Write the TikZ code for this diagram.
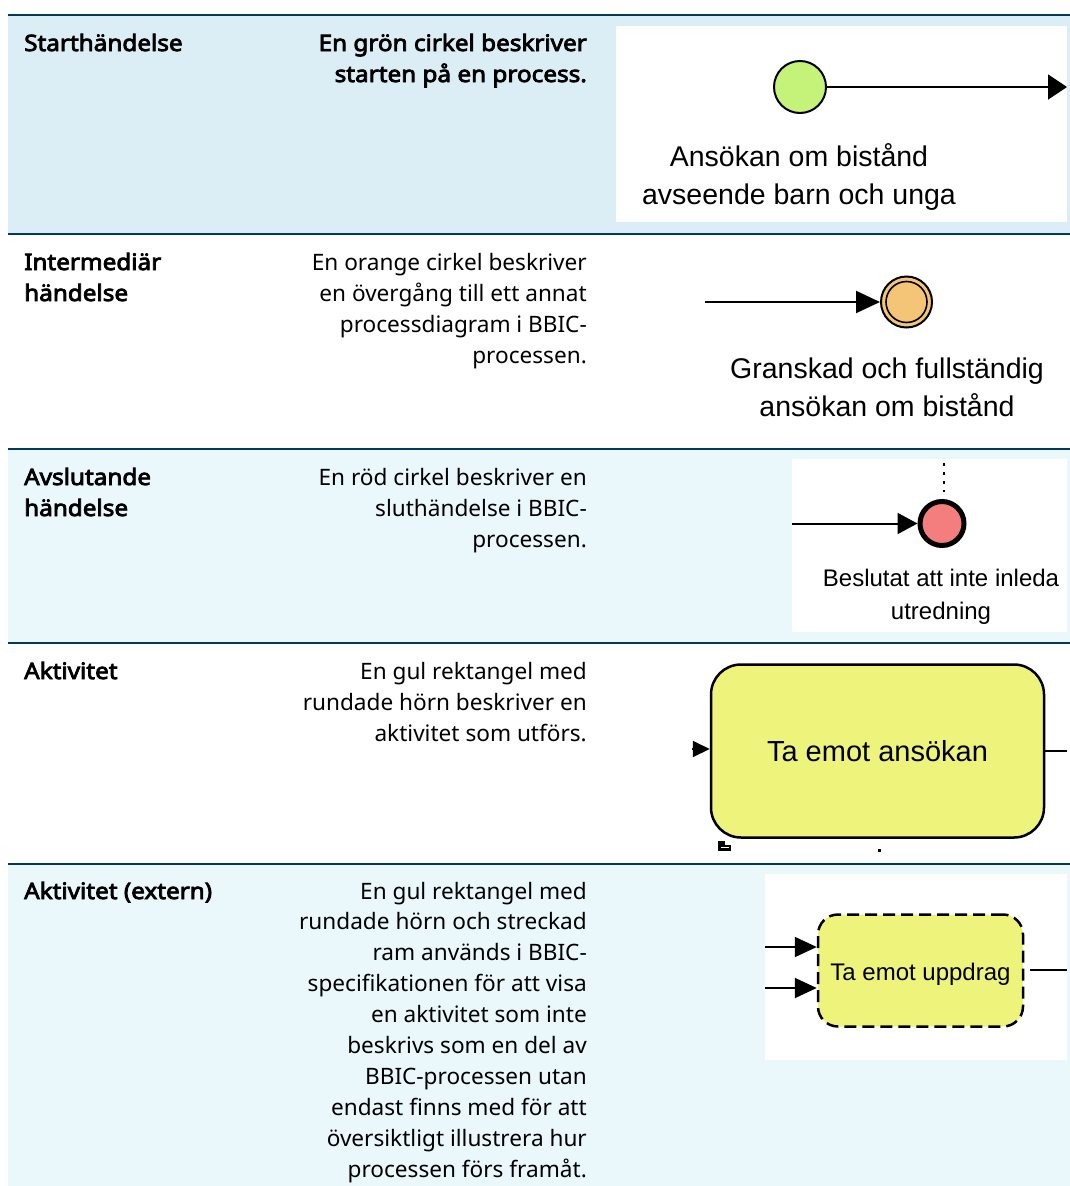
\documentclass[tikz,border=0pt]{standalone}
\usepackage{fontspec}
\setmainfont{Noto Sans}[BoldFont={Noto Sans}, BoldFeatures={FakeBold=3.5, FakeStretch=1.075}]
\newfontfamily\arialf{Liberation Sans}
\usetikzlibrary{arrows.meta}
\definecolor{rulec}{RGB}{0,59,92}
\definecolor{rowa}{RGB}{219,238,245}
\definecolor{rowb}{RGB}{234,248,252}
\definecolor{evgreen}{RGB}{197,243,122}
\definecolor{evorange}{RGB}{245,197,119}
\definecolor{evred}{RGB}{244,125,125}
\definecolor{actyellow}{RGB}{238,243,124}
\begin{document}
\begin{tikzpicture}[x=1pt,y=-1pt,
  hdr/.style={anchor=base west, inner sep=0pt, font=\fontsize{22.6}{31}\selectfont\bfseries},
  desc/.style={anchor=base east, inner sep=0pt, font=\fontsize{22.6}{31}\selectfont},
  descb/.style={anchor=base east, inner sep=0pt, font=\fontsize{22.6}{31}\selectfont\bfseries},
  lblbig/.style={anchor=base, inner sep=0pt, font=\arialf\fontsize{28.5}{34}\selectfont},
  lblsmall/.style={anchor=base, inner sep=0pt, font=\arialf\fontsize{24}{29}\selectfont},
  rulestyle/.style={draw=rulec, line width=2.5pt},
  seqline/.style={line width=2pt},
  evnode/.style={circle, draw=black, inner sep=0pt},
]
\useasboundingbox (0,0) rectangle (1070,1186);
\fill[white] (0,0) rectangle (1070,1186);
% row backgrounds
\fill[rowa] (8,15) rectangle (1070,234);
\fill[rowb] (8,449) rectangle (1070,643);
\fill[rowb] (8,864) rectangle (1070,1186);
% white picture panels
\fill[white] (616,26) rectangle (1067,222);
\fill[white] (792,459) rectangle (1067,632);
\fill[white] (765,874) rectangle (1067,1060);
% rules
\foreach \yy in {15,234,449,643,864} \draw[rulestyle] (8,\yy) -- (1070,\yy);

% column 1 headings
\node[hdr] (h1) at (24,51) {Starthändelse};
\node[hdr] (h2a) at (24,270) {Intermediär};
\node[hdr] (h2b) at (24,301) {händelse};
\node[hdr] (h3a) at (24,485) {Avslutande};
\node[hdr] (h3b) at (24,516) {händelse};
\node[hdr] (h4) at (24,679) {Aktivitet};
\node[hdr] (h5) at (24,899) {Aktivitet (extern)};

% column 2 descriptions
\foreach \t [count=\i] in {En grön cirkel beskriver, starten på en process.}
  \node[descb] (dA\i) at (587,{51+31*(\i-1)}) {\t};
\foreach \t [count=\i] in {En orange cirkel beskriver, en övergång till ett annat, processdiagram i BBIC-, processen.}
  \node[desc] (dB\i) at (587,{270+31*(\i-1)}) {\t};
\foreach \t [count=\i] in {En röd cirkel beskriver en, sluthändelse i BBIC-, processen.}
  \node[desc] (dC\i) at (587,{485+31*(\i-1)}) {\t};
\foreach \t [count=\i] in {En gul rektangel med, rundade hörn beskriver en, aktivitet som utförs.}
  \node[desc] (dD\i) at (587,{679+31*(\i-1)}) {\t};
\foreach \t [count=\i] in {En gul rektangel med, rundade hörn och streckad, ram används i BBIC-, specifikationen för att visa, en aktivitet som inte, beskrivs som en del av, BBIC-processen utan, endast finns med för att, översiktligt illustrera hur, processen förs framåt.}
  \node[desc] (dE\i) at (587,{899+30.9*(\i-1)}) {\t};

% Row 1: start event
\node[evnode, fill=evgreen, line width=2pt, minimum size=52pt] (start) at (800,87) {};
\coordinate (startout) at (1067,87);
\draw[seqline, -{Triangle[length=19pt,width=25pt]}] (start.east) -- (startout);
\node[lblbig] (startl1) at (799,166) {Ansökan om bistånd};
\node[lblbig] (startl2) at (799,204) {avseende barn och unga};

% Row 2: intermediate event
\node[evnode, fill=evorange, line width=2pt, minimum size=51pt] (inter) at (906.5,302) {};
\draw[line width=1.6pt] (inter.center) circle[radius=20.5pt];
\coordinate (interin) at (705,302);
\draw[seqline, -{Triangle[length=24pt,width=22pt]}] (interin) -- (inter.west);
\node[lblbig] (interl1) at (887,378) {Granskad och fullständig};
\node[lblbig] (interl2) at (887,416) {ansökan om bistånd};

% Row 3: end event
\node[evnode, fill=evred, line width=5pt, minimum size=44pt] (endev) at (942,523.5) {};
\coordinate (endin) at (792,523.5);
\draw[seqline, -{Triangle[length=20pt,width=21pt]}] (endin) -- (endev.west);
\coordinate (endtop) at (944,463);
\draw[line width=2.5pt, dash pattern=on 2.5pt off 6.5pt, shorten >=7pt] (endtop) -- (endev.north -| endtop);
\node[lblsmall] (endl1) at (941,586) {Beslutat att inte inleda};
\node[lblsmall] (endl2) at (941,619) {utredning};

% Row 4: activity
\node[draw=black, line width=2.5pt, fill=actyellow, rounded corners=30pt,
      minimum width=333pt, minimum height=173pt, inner sep=0pt,
      text height=20pt, text depth=0pt,
      font=\arialf\fontsize{29}{34}\selectfont] (act) at (877.5,751) {Ta emot ansökan};
\coordinate (actin) at (692,749);
\draw[seqline, -{Triangle[length=17pt,width=16pt]}] (actin) -- (act.west |- actin);
\coordinate (actout) at (1067,751);
\draw[seqline] (act.east) -- (actout);
% small marker icon and dots below activity
\fill[black] (718,841) rectangle (731,851);
\fill[white] (725,841) rectangle (731,844.5);
\fill[white] (721,846.5) rectangle (729,848);
\fill[black] (878,849) rectangle (880.5,851.5);

% Row 5: external activity
\node[draw=black, line width=2.5pt, dash pattern=on 12pt off 6pt, fill=actyellow, rounded corners=20pt,
      minimum width=205pt, minimum height=112pt, inner sep=0pt,
      text height=20pt, text depth=0pt,
      font=\arialf\fontsize{24}{29}\selectfont] (ext) at (920.5,970.5) {Ta emot uppdrag};
\coordinate (extin1) at (765,947);
\coordinate (extin2) at (765,988);
\draw[seqline, -{Triangle[length=22pt,width=20pt]}] (extin1) -- (ext.west |- extin1);
\draw[seqline, -{Triangle[length=22pt,width=20pt]}] (extin2) -- (ext.west |- extin2);
\coordinate (extout) at (1067,970);
\draw[seqline, shorten <=6pt] (ext.east |- extout) -- (extout);
\end{tikzpicture}
\end{document}
